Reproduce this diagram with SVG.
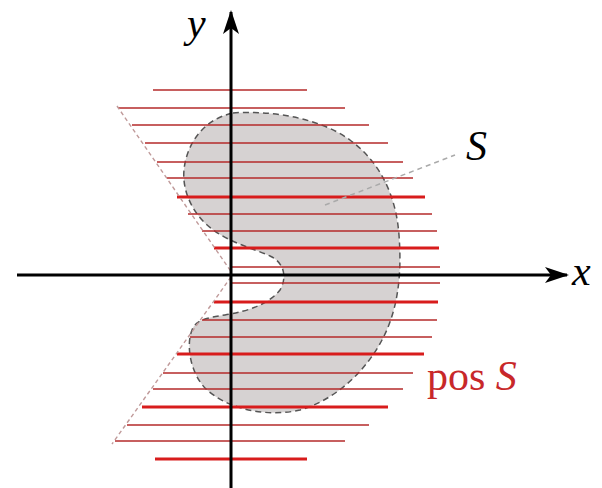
<svg xmlns="http://www.w3.org/2000/svg" width="602" height="488" viewBox="0 0 602 488">
<style>
.thin{stroke:#b52a2a;stroke-width:1.6;fill:none}
.thick{stroke:#d81c1c;stroke-width:3.2;fill:none}
.cone{stroke:#c09a9a;stroke-width:1.4;stroke-dasharray:4 3;fill:none}
.axis{stroke:#000;stroke-width:3;fill:none}
.lbl{font-family:"Liberation Serif",serif;font-size:42px}
</style>
<defs>
<marker id="ah" viewBox="0 0 24 16" refX="22" refY="8" markerWidth="24" markerHeight="16" markerUnits="userSpaceOnUse" orient="auto">
<path d="M0,0 L24,8 L0,16 L6,8 Z" fill="#000"/>
</marker>
</defs>
<rect width="602" height="488" fill="#fff"/>
<g id="S">
<path d="M233 113 C270 110 320 118 350 140 C380 162 396 195 399 235 C402 275 398 310 382 340 C365 372 335 400 300 410 C265 418 225 408 205 388 C190 372 186 345 192 330 C196 320 205 318 225 315 C250 311 270 303 280 290 C287 278 285 263 270 256 C255 249 230 243 212 229 C192 214 182 190 184 170 C186 148 200 120 233 113 Z" fill="#d6d2d2" stroke="#555" stroke-width="1.5" stroke-dasharray="6 4"/>
</g>
<g id="posS">
<line class="thin" x1="153" y1="90" x2="307" y2="90"/>
<line class="thin" x1="118" y1="108" x2="345" y2="108"/>
<line class="thin" x1="132" y1="125" x2="369" y2="125"/>
<line class="thin" x1="145" y1="143" x2="388" y2="143"/>
<line class="thin" x1="157" y1="162" x2="403" y2="162"/>
<line class="thin" x1="167" y1="178" x2="413" y2="178"/>
<line class="thick" x1="177" y1="197" x2="425" y2="197"/>
<line class="thin" x1="188" y1="214" x2="432" y2="214"/>
<line class="thin" x1="202" y1="231" x2="437" y2="231"/>
<line class="thick" x1="214" y1="248" x2="439" y2="248"/>
<line class="thin" x1="230" y1="267" x2="440" y2="267"/>
<line class="thin" x1="232" y1="283" x2="440" y2="283"/>
<line class="thick" x1="214" y1="302" x2="438" y2="302"/>
<line class="thin" x1="202" y1="320" x2="437" y2="320"/>
<line class="thin" x1="190" y1="337" x2="432" y2="337"/>
<line class="thick" x1="177" y1="354" x2="424" y2="354"/>
<line class="thin" x1="163" y1="373" x2="413" y2="373"/>
<line class="thin" x1="153" y1="389" x2="403" y2="389"/>
<line class="thick" x1="142" y1="407" x2="388" y2="407"/>
<line class="thin" x1="127" y1="425" x2="369" y2="425"/>
<line class="thin" x1="115" y1="441" x2="345" y2="441"/>
<line class="thick" x1="155" y1="459" x2="307" y2="459"/>
<line class="cone" x1="117" y1="106" x2="232" y2="273"/>
<line class="cone" x1="231" y1="277" x2="112" y2="444"/>
</g>
<g id="connectors">
<line x1="325" y1="205" x2="455" y2="155" stroke="#aaa" stroke-width="1.5" stroke-dasharray="5 4"/>
<line class="axis" x1="17" y1="275" x2="567" y2="275" marker-end="url(#ah)"/>
<line class="axis" x1="231" y1="488" x2="231" y2="12" marker-end="url(#ah)"/>
</g>
<g id="labels">
<text class="lbl" x="187" y="37" font-style="italic" font-size="36">y</text>
<text class="lbl" x="572" y="285" font-style="italic">x</text>
<text class="lbl" x="466" y="160" font-style="italic">S</text>
<text class="lbl" x="427" y="390" fill="#c8282a">pos <tspan font-style="italic">S</tspan></text>
</g>
</svg>
